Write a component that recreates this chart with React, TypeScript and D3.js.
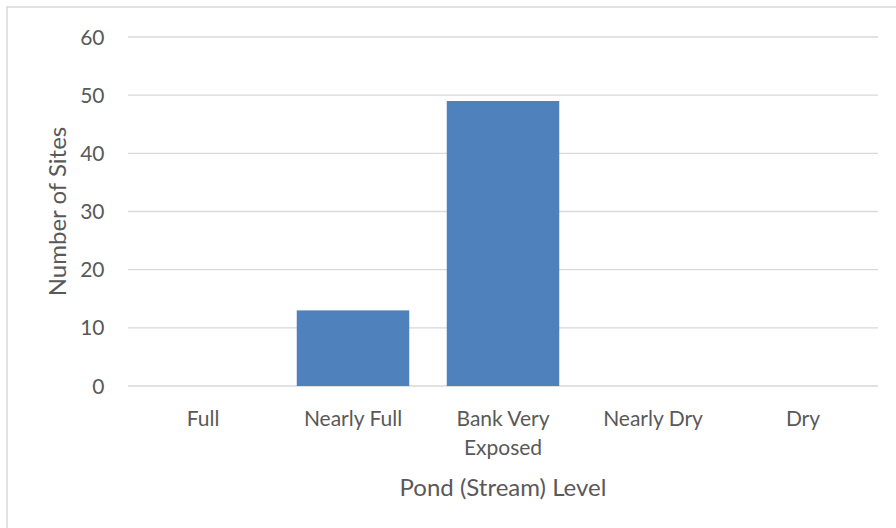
import React from "react";
import * as d3 from "d3";

const categories = ["Full", "Nearly Full", "Bank Very Exposed", "Nearly Dry", "Dry"];
const categoryLines = [["Full"], ["Nearly Full"], ["Bank Very", "Exposed"], ["Nearly Dry"], ["Dry"]];
const siteCounts = [0, 13, 49, 0, 0];
const yTicks = [0, 10, 20, 30, 40, 50, 60];

const W = 896;
const H = 528;
const plot = { left: 128, right: 878, top: 37, bottom: 386 };
const font = "Lato, 'Open Sans', sans-serif";
const textColor = "#595959";

export default function App() {
  const x = d3
    .scaleBand<string>()
    .domain(categories)
    .range([plot.left, plot.right])
    .paddingInner(0.25)
    .paddingOuter(0.125);
  const band = d3.scaleBand<string>().domain(categories).range([plot.left, plot.right]);
  const y = d3.scaleLinear().domain([0, 60]).range([plot.bottom, plot.top]);

  return (
    <svg
      width={W}
      height={H}
      style={{ position: "absolute", left: 0, top: 0, background: "#fff" }}
      fontFamily={font}
    >
      <rect x={7} y={7} width={W} height={H} fill="#fff" stroke="#d9d9d9" strokeWidth={1.5} />
      {yTicks.map((t) => (
        <g key={t}>
          <line
            x1={plot.left}
            x2={plot.right}
            y1={y(t)}
            y2={y(t)}
            stroke="#d9d9d9"
            strokeWidth={1.3}
          />
          <text
            x={104.5}
            y={y(t)}
            dy="0.36em"
            textAnchor="end"
            fontSize={21}
            fill={textColor}
          >
            {t}
          </text>
        </g>
      ))}
      {categories.map((c, i) =>
        siteCounts[i] > 0 ? (
          <rect
            key={c}
            x={x(c)}
            y={y(siteCounts[i])}
            width={x.bandwidth()}
            height={y(0) - y(siteCounts[i])}
            fill="#4f81bd"
          />
        ) : null
      )}
      {categories.map((c, i) => (
        <text
          key={c}
          x={(band(c) as number) + band.bandwidth() / 2}
          y={425.5}
          textAnchor="middle"
          fontSize={21}
          fill={textColor}
        >
          {categoryLines[i].map((line, j) => (
            <tspan key={j} x={(band(c) as number) + band.bandwidth() / 2} dy={j === 0 ? 0 : 29.5}>
              {line}
            </tspan>
          ))}
        </text>
      ))}
      <text x={503} y={496} textAnchor="middle" fontSize={24} fill={textColor}>
        Pond (Stream) Level
      </text>
      <text
        transform={`translate(66, ${(plot.top + plot.bottom) / 2}) rotate(-90)`}
        textAnchor="middle"
        fontSize={24}
        fill={textColor}
      >
        Number of Sites
      </text>
    </svg>
  );
}
